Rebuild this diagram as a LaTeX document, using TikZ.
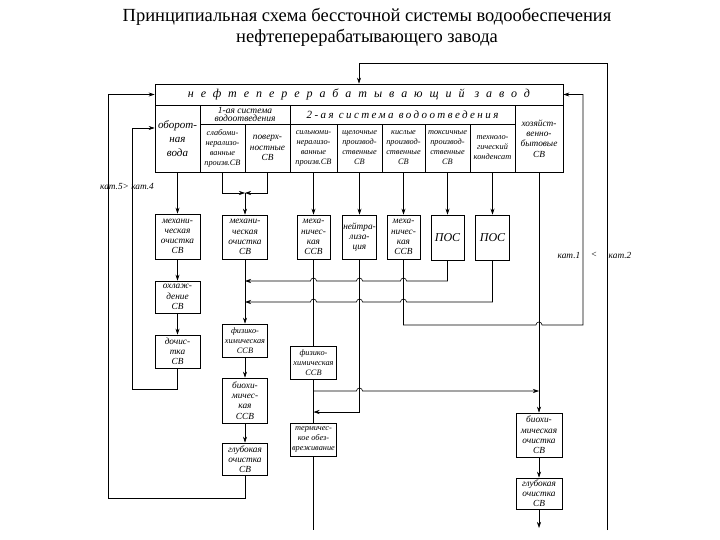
\documentclass[tikz,border=0pt]{standalone}
\usepackage{fontspec}
\setmainfont{Liberation Serif}
\usetikzlibrary{arrows.meta,calc}

\tikzset{
  hand/.style={font=\itshape\fontsize{9.3}{10.2}\selectfont},
  small/.style={font=\itshape\fontsize{8.3}{10}\selectfont},
  box/.style={draw, hand, align=center, inner sep=0.5pt},
  flow/.style={-{Stealth[length=6pt,width=4pt]}},
}
% hop over a vertical line (going left / going right)
\newcommand{\hopL}[1]{-- ($#1+(3,0)$) arc[start angle=0,end angle=180,radius=3pt]}
\newcommand{\hopR}[1]{-- ($#1+(-3,0)$) arc[start angle=180,end angle=0,radius=3pt]}

\begin{document}
\begin{tikzpicture}[x=1pt,y=-1pt,line width=0.6pt]
            \useasboundingbox (0,0) rectangle (720,540);
            % title
            \node[align=center, font=\fontsize{18.5}{21}\selectfont] (title) at (367,27)
                {Принципиальная схема бессточной системы водообеспечения\\нефтеперерабатывающего завода};

            % factory table
            \node[box, minimum width=408pt, minimum height=21pt, font=\itshape\fontsize{12}{12}\selectfont\addfontfeature{LetterSpace=58}] (ZAVOD) at (359,94.5) {нефтеперерабатывающий завод};
            \node[box, minimum width=45pt, minimum height=67pt, font=\itshape\fontsize{11}{14}\selectfont] (OBOR) at (177.5,138.5) {оборот-\\ная\\вода};
            \node[box, minimum width=90pt, minimum height=19pt, font=\itshape\fontsize{9.5}{8.5}\selectfont] (SYS1) at (245,114.5) {1-ая система\\водоотведения};
            \node[box, minimum width=225pt, minimum height=19pt, font=\itshape\fontsize{11}{12}\selectfont\addfontfeature{LetterSpace=22}] (SYS2) at (402.5,114.5) {2-ая система водоотведения};
            \node[box, minimum width=48pt, minimum height=67pt] (HOZ) at (539,138.5) {хозяйст-\\венно-\\бытовые\\СВ};

            \node[box, small, minimum width=45pt, minimum height=48pt] (SLAB) at (222.5,148) {слабоми-\\нерализо-\\ванные\\произв.СВ};
            \node[box, minimum width=45pt, minimum height=48pt] (POV) at (267.5,148) {поверх-\\ностные\\СВ};
            \node[box, small, minimum width=47pt, minimum height=48pt] (SIL) at (313.5,148) {сильноми-\\нерализо-\\ванные\\произв.СВ};
            \node[box, small, minimum width=45pt, minimum height=48pt] (SHCH) at (359.5,148) {щелочные\\производ-\\ственные\\СВ};
            \node[box, small, minimum width=43pt, minimum height=48pt] (KISL) at (403.5,148) {кислые\\производ-\\ственные\\СВ};
            \node[box, small, minimum width=45pt, minimum height=48pt] (TOKS) at (447.5,148) {токсичные\\производ-\\ственные\\СВ};
            \node[box, small, minimum width=45pt, minimum height=48pt] (TEKH) at (492.5,148) {техноло-\\гический\\конденсат};

            % treatment boxes
            \node[box, minimum width=45pt, minimum height=45pt] (MECH1) at (177.5,236.5) {механи-\\ческая\\очистка\\СВ};
            \node[box, minimum width=45pt, minimum height=32pt] (COOL) at (177.5,297) {охлаж-\\дение\\СВ};
            \node[box, minimum width=45pt, minimum height=33pt] (POST) at (177.5,351.5) {дочис-\\тка\\СВ};

            \node[box, minimum width=45pt, minimum height=44pt] (MECH2) at (245,237) {механи-\\ческая\\очистка\\СВ};
            \node[box, small, minimum width=45pt, minimum height=33pt] (PHCH2) at (245,340.5) {физико-\\химическая\\ССВ};
            \node[box, minimum width=45pt, minimum height=45pt] (BIO2) at (245,400.5) {биохи-\\мичес-\\кая\\ССВ};
            \node[box, minimum width=45pt, minimum height=32pt] (DEEP2) at (245,459) {глубокая\\очистка\\СВ};

            \node[box, minimum width=33pt, minimum height=44pt] (MECH3) at (313.5,237) {меха-\\ничес-\\кая\\ССВ};
            \node[box, minimum width=33pt, minimum height=44pt] (NEUT) at (359.5,237) {нейтра-\\лиза-\\ция};
            \node[box, minimum width=33pt, minimum height=44pt] (MECH5) at (403.5,237) {меха-\\ничес-\\кая\\ССВ};
            \node[box, minimum width=33pt, minimum height=45pt, font=\itshape\fontsize{12}{12}\selectfont] (POS1) at (447.5,237.5) {ПОС};
            \node[box, minimum width=34pt, minimum height=45pt, font=\itshape\fontsize{12}{12}\selectfont] (POS2) at (492.5,237.5) {ПОС};

            \node[box, small, minimum width=46pt, minimum height=33pt] (PHCH3) at (313.5,362.5) {физико-\\химическая\\ССВ};
            \node[box, small, minimum width=46pt, minimum height=33pt] (TERM) at (313.5,439.5) {термичес-\\кое обез-\\вреживание};

            \node[box, minimum width=46pt, minimum height=44pt] (BIO8) at (539,435) {биохи-\\мическая\\очистка\\СВ};
            \node[box, minimum width=46pt, minimum height=31pt] (DEEP8) at (539,493.5) {глубокая\\очистка\\СВ};

            % labels
            \node[hand] (kat54) at (127,187) {кат.5> кат.4};
            \node[hand] (kat1) at (569,255) {кат.1};
            \node[hand] (lt) at (594,255) {<};
            \node[hand] (kat2) at (620,255) {кат.2};

            % helper levels
            \coordinate (l0) at (0,193);
            \coordinate (l1) at (0,281);
            \coordinate (l2) at (0,302);
            \coordinate (l3) at (0,325);
            \coordinate (l4) at (0,391);
            \coordinate (l5) at (0,412);
            \coordinate (l6) at (0,389);
            \coordinate (l7) at (0,128);
            \coordinate (l8) at (0,498);
            \coordinate (kl) at (108,0);
            \coordinate (ki) at (132,0);
            \coordinate (kr) at (583,0);
            \coordinate (kt) at (607,63);
            \coordinate (rb) at (607,530);
            \coordinate (ob) at (0,528);

            % circulating water
            \draw[flow] (OBOR) -- (MECH1);
            \draw[flow] (MECH1) -- (COOL);
            \draw[flow] (COOL) -- (POST);
            \draw[flow] (POST.south) -- (POST.south |- l6) -- (ki |- l6) -- (ki |- l7) -- (OBOR.west |- l7);

            % 1st system
            \draw[flow] (SLAB.south) -- (SLAB.south |- l0) -- (MECH2.north |- l0);
            \draw[flow] (POV.south) -- (POV.south |- l0) -- (MECH2.north |- l0);
            \draw[flow] (MECH2.north |- l0) -- (MECH2.north);
            \draw[flow] (MECH2) -- (PHCH2);
            \draw[flow] (PHCH2) -- (BIO2);
            \draw[flow] (BIO2) -- (DEEP2);
            \draw[flow] (DEEP2.south) -- (DEEP2.south |- l8) -- (kl |- l8) -- (kl |- ZAVOD.west) -- (ZAVOD.west);

            % 2nd system
            \draw[flow] (SIL) -- (MECH3);
            \draw[flow] (SHCH) -- (NEUT);
            \draw[flow] (KISL) -- (MECH5);
            \draw[flow] (TOKS) -- (POS1);
            \draw[flow] (TEKH) -- (POS2);
            \draw (MECH3.south) -- (MECH3.south |- PHCH3.north);
            \draw[flow] (POS1.south) -- (POS1.south |- l1) \hopL{(MECH5 |- l1)} \hopL{(NEUT |- l1)} \hopL{(MECH3 |- l1)} -- (MECH2 |- l1);
            \draw[flow] (POS2.south) -- (POS2.south |- l2) \hopL{(MECH5 |- l2)} \hopL{(NEUT |- l2)} \hopL{(MECH3 |- l2)} -- (MECH2 |- l2);
            \draw[flow] (MECH5.south) -- (MECH5.south |- l3) \hopR{(HOZ |- l3)} -- (kr |- l3) -- (kr |- ZAVOD.east) -- (ZAVOD.east);
            \draw[flow] (PHCH3.south) -- (PHCH3.south |- l4) \hopR{(NEUT |- l4)} -- (HOZ |- l4);
            \draw (PHCH3.south |- l4) -- (TERM.north);
            \draw[flow] (NEUT.south) -- (NEUT.south |- l5) -- (TERM |- l5);
            \draw (TERM.south) -- (TERM.south |- rb);

            % household
            \draw[flow] (HOZ.south) -- (BIO8.north);
            \draw[flow] (BIO8) -- (DEEP8);
            \draw[flow] (DEEP8.south) -- (DEEP8.south |- ob);

            % return to the plant
            \draw[flow] (rb) -- (kt) -| (ZAVOD.north);
\end{tikzpicture}
\end{document}
